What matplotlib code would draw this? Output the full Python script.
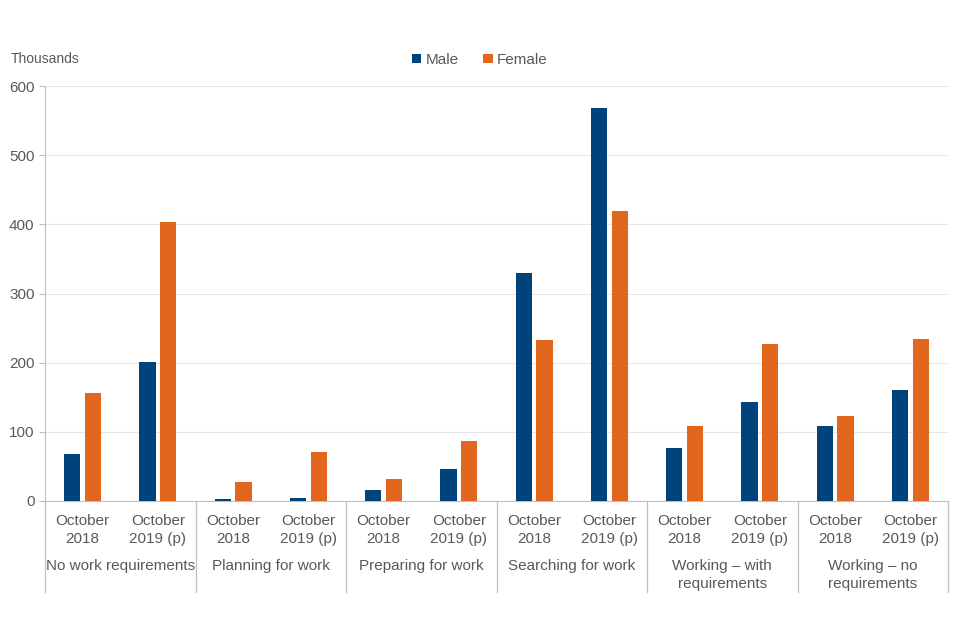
import numpy as np
import matplotlib
matplotlib.use("Agg")
import matplotlib.pyplot as plt

groups = ["No work requirements", "Planning for work", "Preparing for work",
          "Searching for work", "Working \u2013 with\nrequirements", "Working \u2013 no\nrequirements"]
periods = ["October\n2018", "October\n2019 (p)"]

# values in thousands, order: group x period
male = [68, 201, 3, 4, 16, 46, 330, 568, 77, 143, 108, 160]
female = [156, 403, 27, 71, 32, 87, 233, 419, 108, 227, 123, 234]

male_col = "#00427A"
female_col = "#E3661F"
grey_txt = "#595959"
line_col = "#BFBFBF"

plt.rcParams['font.family'] = ['Liberation Sans', 'DejaVu Sans']

fig = plt.figure(figsize=(9.6, 6.4), dpi=100)
ax = fig.add_axes([45/960, 1 - 501/640, (948 - 45)/960, (501 - 86)/640])

n = len(male)
x = np.arange(n)
w = 0.215
gap = 0.03
ax.bar(x - w/2 - gap, male, width=w, color=male_col, label="Male", zorder=3)
ax.bar(x + w/2 + gap, female, width=w, color=female_col, label="Female", zorder=3)

ax.set_xlim(-0.5, n - 0.5)
ax.set_ylim(0, 600)
ax.set_yticks(range(0, 601, 100))
ax.yaxis.grid(True, color="#E6E6E6", linewidth=0.8, zorder=0)
ax.tick_params(axis='y', colors=line_col, labelcolor=grey_txt, labelsize=11, length=4)
ax.set_xticks([])
for s in ['top', 'right']:
    ax.spines[s].set_visible(False)
ax.spines['left'].set_color(line_col)
ax.spines['bottom'].set_color(line_col)

trans = ax.get_xaxis_transform()
for i in range(n):
    ax.text(i, -0.031, periods[i % 2], transform=trans, ha='center', va='top',
            fontsize=11, color=grey_txt, linespacing=1.4)
for g, name in enumerate(groups):
    ax.text(2*g + 0.5, -0.14, name, transform=trans, ha='center', va='top',
            fontsize=11, color=grey_txt, linespacing=1.35)
for b in range(len(groups) + 1):
    ax.plot([2*b - 0.5, 2*b - 0.5], [0, -0.219], transform=trans, color=line_col,
            linewidth=0.9, clip_on=False)

ax.text(-0.038, 1.065, "Thousands", transform=ax.transAxes, fontsize=10,
        color=grey_txt, ha='left', va='center')
fig.legend(loc='center', bbox_to_anchor=(480/960, 1 - 60/640), ncol=2, frameon=False,
           fontsize=11, handlelength=0.6, handleheight=0.6, handletextpad=0.3,
           columnspacing=1.6, labelcolor=grey_txt)

fig.savefig("out.png", dpi=100)
